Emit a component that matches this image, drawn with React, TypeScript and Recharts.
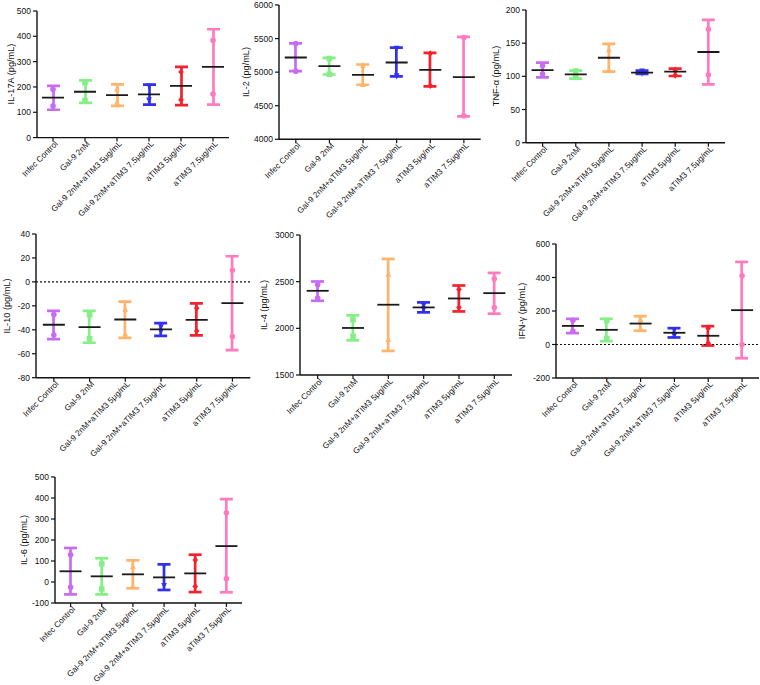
import React from 'react';
import { ComposedChart, Bar, Scatter, XAxis, YAxis, ReferenceLine } from 'recharts';

const groups = ['Infec Control', 'Gal-9 2nM', 'Gal-9 2nM+aTIM3 5μg/mL', 'Gal-9 2nM+aTIM3 7.5μg/mL', 'aTIM3 5μg/mL', 'aTIM3 7.5μg/mL'];
const groupsIFN = ['Infec Control', 'Gal-9 2nM', 'Gal-9 2nM+aTIM3 7.5μg/mL', 'Gal-9 2nM+aTIM3 7.5μg/mL', 'aTIM3 5μg/mL', 'aTIM3 7.5μg/mL'];
const colors = ['#C76CF2', '#86EE86', '#FFB36B', '#3030EE', '#F2222E', '#FF7BBE'];

// IL-17A
const il17aMean = [158, 181, 168, 171, 204, 279];
const il17aLow = [110, 137, 125, 130, 128, 130];
const il17aHigh = [204, 226, 210, 209, 279, 428];
const il17aPtA = [191, 217, 193, 203, 259, 384];
const il17aPtB = [125, 147, 141, 147, 149, 172];
// IL-2
const il2Mean = [5218, 5089, 4960, 5144, 5035, 4926];
const il2Low = [5015, 4965, 4812, 4936, 4787, 4342];
const il2High = [5430, 5213, 5114, 5366, 5287, 5525];
const il2PtA = [5425, 5203, 5104, 5351, 5277, 5515];
const il2PtB = [5015, 4970, 4822, 4941, 4797, 4351];
// TNF-α
const tnfMean = [109.5, 103, 128, 105.5, 107, 136.7];
const tnfLow = [98.5, 96.5, 107, 103.5, 100.5, 88];
const tnfHigh = [120.6, 108.5, 149, 108.5, 111.6, 185];
const tnfPtA = [116, 108, 140.7, 107.5, 110, 171];
const tnfPtB = [103.5, 98.5, 110.6, 104.5, 101.5, 102.5];
// IL-10
const il10Mean = [-35.8, -37.8, -31.4, -39.7, -31.7, -17.8];
const il10Low = [-47.8, -50.8, -46.7, -45, -44.7, -57];
const il10High = [-24.2, -24.2, -16.4, -34.4, -18, 21.4];
const il10PtA = [-27.2, -27.5, -22.5, -37.8, -22, 9.7];
const il10PtB = [-44.4, -47.5, -43.3, -41.4, -41, -45.6];
// IL-4
const il4Mean = [2402, 2004, 2253, 2224, 2320, 2377];
const il4Low = [2295, 1872, 1758, 2171, 2181, 2157];
const il4High = [2502, 2139, 2744, 2278, 2459, 2594];
const il4PtA = [2466, 2093, 2584, 2245, 2416, 2530];
const il4PtB = [2324, 1915, 1883, 2203, 2224, 2224];
// IFN-γ
const ifnMean = [111, 87.5, 125, 70, 52, 205];
const ifnLow = [68, 20, 82, 42, -6, -82];
const ifnHigh = [153, 153, 169, 97.5, 109.5, 493];
const ifnPtA = [145, 143, 151, 87.5, 97.5, 410];
const ifnPtB = [80, 36, 95.5, 52, 8, 0];
// IL-6
const il6Mean = [51, 27, 36.5, 22, 41, 171];
const il6Low = [-59, -59, -30, -38, -48, -49];
const il6High = [162, 113, 103, 84, 130, 395];
const il6PtA = [130, 87, 75, 76, 105, 330];
const il6PtB = [-25, -33, -19, -17.5, -21, 16];

const FONT = '"Liberation Sans", Arial, sans-serif';

const ErrorShape = (props: any) => {
  const { x, y, width, height, payload } = props;
  if (x == null || y == null) return null;
  const cx = x + width / 2;
  const top = Math.min(y, y + height);
  const bot = Math.max(y, y + height);
  const c = colors[payload.idx];
  return (
    <g>
      <line x1={cx} x2={cx} y1={top} y2={bot} stroke={c} strokeWidth={2.7} />
      <line x1={x} x2={x + width} y1={top} y2={top} stroke={c} strokeWidth={2.7} />
      <line x1={x} x2={x + width} y1={bot} y2={bot} stroke={c} strokeWidth={2.7} />
    </g>
  );
};

const MeanShape = (props: any) => {
  const { cx, cy } = props;
  if (cx == null || cy == null) return null;
  return <line x1={cx - 11} x2={cx + 11} y1={cy} y2={cy} stroke="#1a1a1a" strokeWidth={1.8} />;
};

const PointShape = (props: any) => {
  const { cx, cy, payload } = props;
  if (cx == null || cy == null) return null;
  const i = payload.idx;
  const c = colors[i];
  const r = 2.8;
  if (i === 1) return <rect x={cx - r} y={cy - r} width={2 * r} height={2 * r} fill={c} />;
  if (i === 2) return <polygon points={`${cx},${cy - r - 0.5} ${cx - r},${cy + r} ${cx + r},${cy + r}`} fill={c} />;
  if (i === 3) return <polygon points={`${cx},${cy + r + 0.5} ${cx - r},${cy - r} ${cx + r},${cy - r}`} fill={c} />;
  if (i === 4) return <polygon points={`${cx},${cy - r - 0.5} ${cx + r},${cy} ${cx},${cy + r + 0.5} ${cx - r},${cy}`} fill={c} />;
  return <circle cx={cx} cy={cy} r={r} fill={c} />;
};

const makeXTick = (labels: string[]) => (props: any) => {
  const { x, y, payload } = props;
  const tx = x + 3;
  const ty = y - 1.5;
  return (
    <text x={tx} y={ty} transform={`rotate(-45 ${tx} ${ty})`} textAnchor="end" dy={3.2}
      fontSize={8.2} fontFamily={FONT} fill="#111">
      {labels[payload.value]}
    </text>
  );
};

type PanelProps = {
  label: string;
  axisX: number; axisEnd: number; yTop: number; yBottom: number; labelDist: number;
  domain: [number, number]; ticks: number[]; cats: string[];
  mean: number[]; low: number[]; high: number[]; ptA: number[]; ptB: number[];
  zeroLine?: boolean;
};

const Panel = (p: PanelProps) => {
  const data = p.mean.map((m, i) => ({ idx: i, range: [p.low[i], p.high[i]], mean: m, a: p.ptA[i], b: p.ptB[i] }));
  const yW = 50, mTop = 10, xH = 90, mRight = 6;
  const width = p.axisEnd - p.axisX + yW + mRight;
  const height = p.yBottom - p.yTop + mTop + xH;
  return (
    <>
      <div style={{ position: 'absolute', left: p.axisX - yW, top: p.yTop - mTop }}>
        <ComposedChart width={width} height={height} data={data} margin={{ top: mTop, right: mRight, left: 0, bottom: 0 }}>
          <XAxis dataKey="idx" type="category" interval={0} height={xH} tick={makeXTick(p.cats)}
            tickSize={4} stroke="#111" axisLine={{ stroke: '#111', strokeWidth: 1.4 }} tickLine={{ stroke: '#111', strokeWidth: 1.2 }} />
          <YAxis domain={p.domain} ticks={p.ticks} width={yW} tickSize={4} interval={0}
            tick={{ fontSize: 8.5, fontFamily: FONT, fill: '#111' }}
            axisLine={{ stroke: '#111', strokeWidth: 1.4 }} tickLine={{ stroke: '#111', strokeWidth: 1.2 }} allowDataOverflow />
          {p.zeroLine && <ReferenceLine y={0} stroke="#111" strokeWidth={1.2} strokeDasharray="2 2" />}
          <Bar dataKey="range" barSize={13} shape={ErrorShape} isAnimationActive={false} />
          <Scatter dataKey="a" shape={PointShape} isAnimationActive={false} />
          <Scatter dataKey="b" shape={PointShape} isAnimationActive={false} />
          <Scatter dataKey="mean" shape={MeanShape} isAnimationActive={false} />
        </ComposedChart>
      </div>
      <div style={{
        position: 'absolute', left: p.axisX - p.labelDist, top: (p.yTop + p.yBottom) / 2,
        transform: 'translate(-50%, -50%) rotate(-90deg)', whiteSpace: 'nowrap',
        fontFamily: FONT, fontSize: 9.2, color: '#111', lineHeight: 1,
      }}>{p.label}</div>
    </>
  );
};

export default function App() {
  return (
    <div style={{ position: 'absolute', left: 0, top: 0, width: 760, height: 685, background: '#fff', overflow: 'hidden' }}>
      <style>{'svg { overflow: visible; }'}</style>
      <Panel label="IL-17A (pg/mL)" axisX={37} axisEnd={229} yTop={10.7} yBottom={137.3} labelDist={25}
        domain={[0, 500]} ticks={[0, 100, 200, 300, 400, 500]} cats={groups}
        mean={il17aMean} low={il17aLow} high={il17aHigh} ptA={il17aPtA} ptB={il17aPtB} />
      <Panel label="IL-2 (pg/mL)" axisX={279.3} axisEnd={481} yTop={5} yBottom={139.3} labelDist={32.6}
        domain={[4000, 6000]} ticks={[4000, 4500, 5000, 5500, 6000]} cats={groups}
        mean={il2Mean} low={il2Low} high={il2High} ptA={il2PtA} ptB={il2PtB} />
      <Panel label="TNF-α (pg/mL)" axisX={526} axisEnd={725} yTop={10} yBottom={142.7} labelDist={29}
        domain={[0, 200]} ticks={[0, 50, 100, 150, 200]} cats={groups}
        mean={tnfMean} low={tnfLow} high={tnfHigh} ptA={tnfPtA} ptB={tnfPtB} />
      <Panel label="IL-10 (pg/mL)" axisX={35.7} axisEnd={250} yTop={234} yBottom={377.7} labelDist={28}
        domain={[-80, 40]} ticks={[-80, -60, -40, -20, 0, 20, 40]} cats={groups} zeroLine
        mean={il10Mean} low={il10Low} high={il10High} ptA={il10PtA} ptB={il10PtB} />
      <Panel label="IL-4 (pg/mL)" axisX={300} axisEnd={512} yTop={235.3} yBottom={375.3} labelDist={35}
        domain={[1500, 3000]} ticks={[1500, 2000, 2500, 3000]} cats={groups}
        mean={il4Mean} low={il4Low} high={il4High} ptA={il4PtA} ptB={il4PtB} />
      <Panel label="IFN-γ (pg/mL)" axisX={556} axisEnd={759} yTop={244.3} yBottom={378.3} labelDist={32.7}
        domain={[-200, 600]} ticks={[-200, 0, 200, 400, 600]} cats={groupsIFN} zeroLine
        mean={ifnMean} low={ifnLow} high={ifnHigh} ptA={ifnPtA} ptB={ifnPtB} />
      <Panel label="IL-6 (pg/mL)" axisX={55} axisEnd={242} yTop={477.3} yBottom={603.3} labelDist={30}
        domain={[-100, 500]} ticks={[-100, 0, 100, 200, 300, 400, 500]} cats={groups}
        mean={il6Mean} low={il6Low} high={il6High} ptA={il6PtA} ptB={il6PtB} />
    </div>
  );
}
